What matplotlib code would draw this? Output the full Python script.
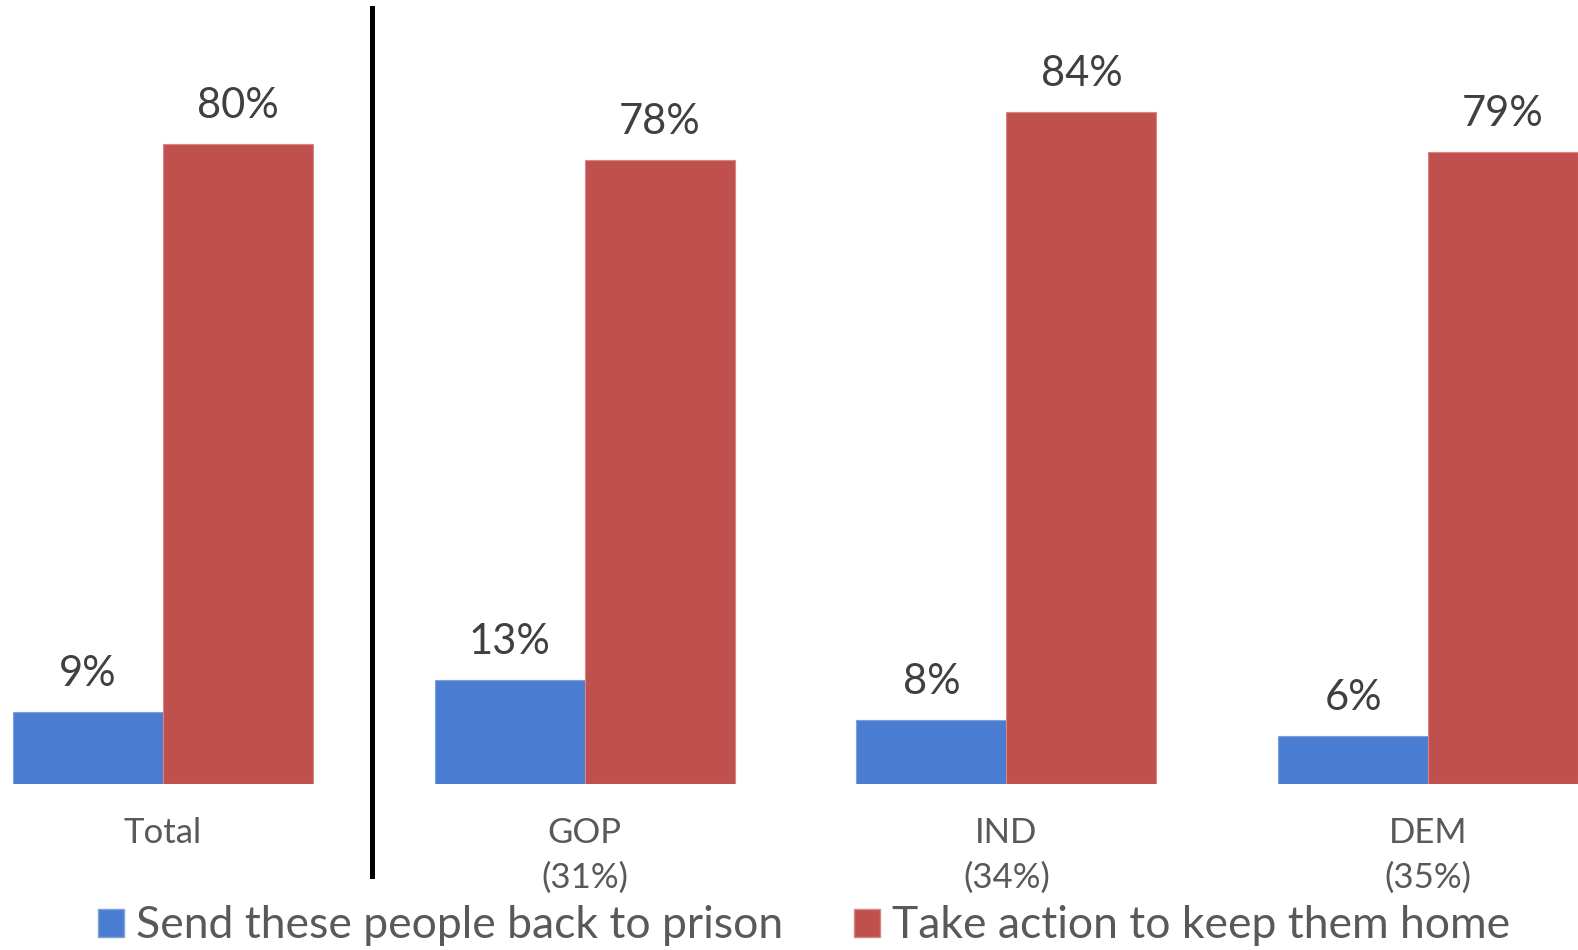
import matplotlib.pyplot as plt
import numpy as np
from matplotlib.patches import Patch
from matplotlib.lines import Line2D
import matplotlib.transforms as mtransforms

plt.rcParams['font.family'] = ['Lato', 'DejaVu Sans']

# Data
groups = ["Total", "GOP\n(31%)", "IND\n(34%)", "DEM\n(35%)"]
send_back = [9, 13, 8, 6]
keep_home = [80, 78, 84, 79]
series_names = ["Send these people back to prison", "Take action to keep them home"]

BLUE = "#4A7CD1"
RED = "#C0504D"

W, H = 1578, 950
fig = plt.figure(figsize=(W / 100, H / 100), dpi=100)

# pixel geometry: group spacing ~421.7 px, first centre at 163 px, baseline at 784 px
spacing = 421.7
x0 = 163
left = -x0 / spacing
right = (W - x0) / spacing
ax = fig.add_axes([0, (H - 784) / H, 1, 784 / H])
ax.set_xlim(left, right)
ax.set_ylim(0, 98)

x = np.arange(len(groups))
bw = 150 / spacing
b1 = ax.bar(x - bw / 2, send_back, bw, color=BLUE, edgecolor="#7FA0DC", linewidth=0.8)
b2 = ax.bar(x + bw / 2, keep_home, bw, color=RED, edgecolor="#D88584", linewidth=0.8)

for bars, vals in ((b1, send_back), (b2, keep_home)):
    for rect, v in zip(bars, vals):
        ax.annotate(f"{v}%", (rect.get_x() + rect.get_width() / 2, v),
                    xytext=(0, 14), textcoords="offset points",
                    ha="center", va="bottom", fontsize=30, color="#404040")

ax.set_xticks(x)
ax.set_xticklabels(groups, fontsize=25, color="#595959", linespacing=1.45)
ax.tick_params(axis="x", length=0, pad=24)
ax.set_yticks([])
for s in ax.spines.values():
    s.set_visible(False)

# divider between Total and party groups
trans = mtransforms.blended_transform_factory(ax.transData, fig.transFigure)
fig.add_artist(Line2D([0.495, 0.495], [1 - 8 / H, 1 - 876 / H], transform=trans,
                      color="black", linewidth=3.6))

handles = [Patch(facecolor=BLUE, edgecolor="#7FA0DC"), Patch(facecolor=RED, edgecolor="#D88584")]
fig.legend(handles, series_names, loc="center", bbox_to_anchor=(0.5095, 1 - 926 / H),
           ncol=2, frameon=False, fontsize=32, labelcolor="#595959",
           handlelength=0.59, handleheight=0.59, handletextpad=0.27,
           columnspacing=1.6, borderpad=0, borderaxespad=0)

fig.savefig("out.png", dpi=100)
